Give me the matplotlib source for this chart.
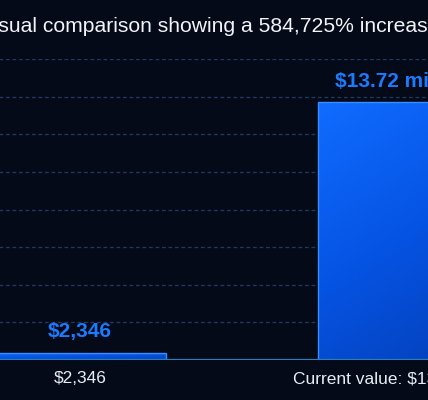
import numpy as np
import matplotlib.pyplot as plt
from matplotlib.colors import LinearSegmentedColormap

# values
categories = ["$2,346", "Current value: $13.72 million"]
values = [2346, 13_720_000]
bar_labels = ["$2,346", "$13.72 million"]
title = "Visual comparison showing a 584,725% increase"
y_ticks = [0, 2e6, 4e6, 6e6, 8e6, 10e6, 12e6, 14e6, 16e6]

BG = "#050a18"
plt.rcParams['font.family'] = ['Liberation Sans', 'DejaVu Sans']

# tiny value would vanish, give it a minimum visible height like the original
min_h = 0.028 * max(values)
shown = [max(v, min_h) for v in values]
x = np.arange(len(values))

fig = plt.figure(figsize=(4.28, 4.0), dpi=100, facecolor=BG)
ax = fig.add_axes([-82 / 428, 40 / 400, 648 / 428, 301 / 400], facecolor=BG)

bars = ax.bar(x, shown, width=0.53, color='none', edgecolor='#3a8cff', linewidth=1.0, zorder=3)

cmap = LinearSegmentedColormap.from_list("bar", ["#106cff", "#0654e4", "#033fb8"])
yy, xx = np.mgrid[0:1:200j, 0:1:200j]
grad = 0.7 * yy + 0.3 * xx
for b in bars:
    x0, y0 = b.get_xy()
    w, h = b.get_width(), b.get_height()
    im = ax.imshow(grad, extent=[x0, x0 + w, y0, y0 + h], cmap=cmap, aspect='auto',
                   origin='upper', zorder=2, interpolation='bilinear')
    im.set_clip_path(b)

for b, lab in zip(bars, bar_labels):
    ax.annotate(lab, (b.get_x() + b.get_width() / 2, b.get_height()), xytext=(0, 11),
                textcoords='offset points', ha='center', va='baseline',
                color='#1a7bff', fontsize=15, fontweight='bold')

ax.set_xlim(-0.5, 1.5)
ax.set_ylim(0, 16e6)
ax.set_yticks(y_ticks)
ax.yaxis.grid(True, linestyle=(0, (3, 2.2)), color='#1d3a62', linewidth=0.9, zorder=0)
ax.set_axisbelow(True)
ax.tick_params(axis='y', left=False, labelleft=False)
ax.set_xticks(x)
ax.set_xticklabels(categories, color='#e8ecf4', fontsize=12.5)
ax.tick_params(axis='x', length=0, pad=8)
for s in ax.spines.values():
    s.set_visible(False)
ax.axhline(0, color='#2b80bb', linewidth=1.6, zorder=4)

fig.text(-20 / 428, 1 - 32 / 400, title, ha='left', va='baseline', color='#f2f4f8', fontsize=15.2)

fig.savefig("out.png", dpi=100, facecolor=BG)
